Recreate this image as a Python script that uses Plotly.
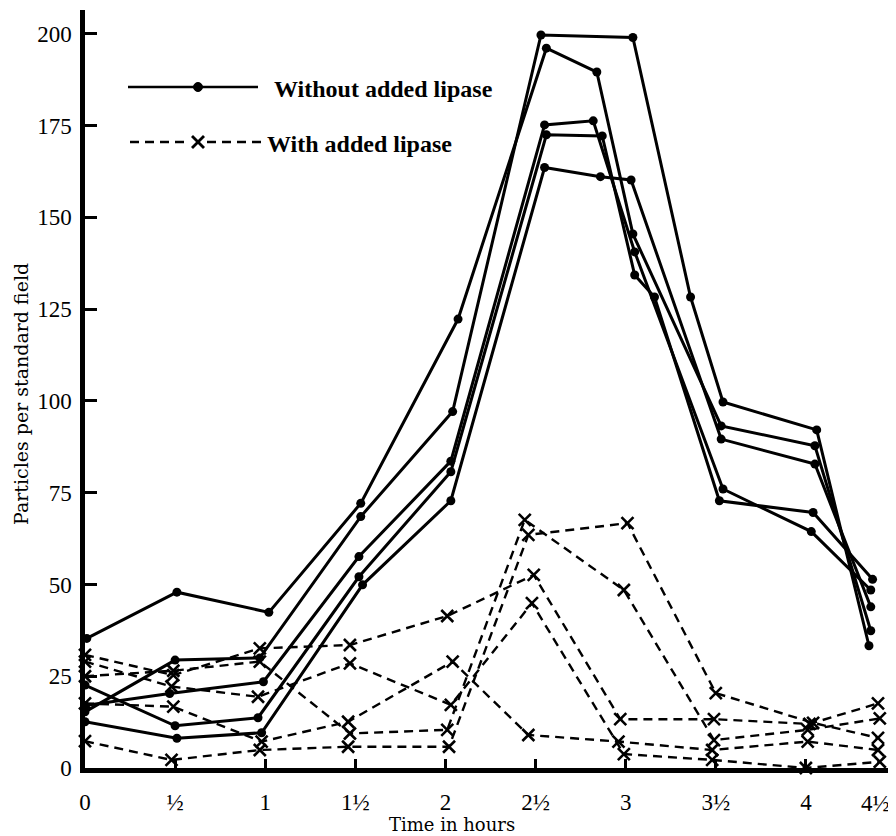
import plotly.graph_objects as go

# ---------------- data ----------------
tick_vals = [0, 0.5, 1, 1.5, 2, 2.5, 3, 3.5, 4, 4.5]
tick_text = ["0", "½", "1", "1½", "2", "2½", "3", "3½", "4", "4½"]
y_ticks = [0, 25, 50, 75, 100, 125, 150, 175, 200]

# Without added lipase (solid, dots)
s1_x = [0.01, 0.51, 1.02, 1.53, 2.07, 2.56, 2.84, 3.04, 3.53, 4.05, 4.36]
s1_y = [35.3, 47.9, 42.4, 72.1, 122.3, 196.1, 189.6, 145.5, 93.2, 87.8, 37.4]
s2_x = [0.0, 0.50, 0.97, 1.53, 2.04, 2.53, 3.04, 3.36, 3.54, 4.06, 4.35]
s2_y = [15.3, 29.4, 30.0, 68.5, 97.1, 199.7, 199.0, 128.3, 99.7, 92.1, 33.3]
s3_x = [0.0, 0.47, 0.99, 1.52, 2.03, 2.55, 2.82, 3.05, 3.54, 4.03, 4.36]
s3_y = [17.0, 20.3, 23.5, 57.6, 83.6, 175.2, 176.3, 140.6, 76.0, 64.4, 48.5]
s4_x = [0.0, 0.50, 0.96, 1.52, 2.03, 2.56, 2.87, 3.05, 3.16, 3.52, 4.04, 4.37]
s4_y = [22.6, 11.5, 13.7, 52.1, 80.7, 172.5, 172.2, 134.3, 128.3, 72.8, 69.6, 51.4]
s5_x = [0.0, 0.51, 0.98, 1.54, 2.03, 2.55, 2.86, 3.03, 3.53, 4.05, 4.36]
s5_y = [12.6, 8.1, 9.6, 49.9, 72.8, 163.6, 161.1, 160.2, 89.6, 82.8, 43.9]

# With added lipase (dashed, crosses)
d1_x = [0.0, 0.49, 0.97, 1.47, 2.01, 2.49, 2.97, 3.49, 4.02, 4.40]
d1_y = [30.8, 25.3, 32.6, 33.5, 41.4, 52.6, 13.3, 13.3, 12.0, 17.6]
d2_x = [0.0, 0.48, 0.96, 1.47, 2.03, 2.48, 2.99, 3.48, 4.00, 4.41]
d2_y = [29.0, 22.2, 19.4, 28.5, 17.2, 44.9, 3.8, 2.2, 0.0, 1.7]
d3_x = [0.0, 0.49, 0.97, 1.47, 2.01, 2.44, 2.99, 3.49, 4.01, 4.41]
d3_y = [25.0, 26.5, 29.0, 9.4, 10.4, 67.6, 48.5, 7.6, 10.4, 13.5]
d4_x = [0.0, 0.49, 0.98, 1.46, 2.04, 2.46, 2.96, 3.48, 4.01, 4.40]
d4_y = [17.6, 16.7, 7.2, 12.6, 29.0, 9.0, 7.2, 4.9, 7.2, 4.9]
d5_x = [0.0, 0.48, 0.97, 1.46, 2.02, 2.46, 3.01, 3.50, 4.04, 4.40]
d5_y = [7.3, 2.2, 4.9, 5.8, 5.8, 63.5, 66.7, 20.4, 12.3, 8.2]

solid = [(s1_x, s1_y), (s2_x, s2_y), (s3_x, s3_y), (s4_x, s4_y), (s5_x, s5_y)]
dashed = [(d1_x, d1_y), (d2_x, d2_y), (d3_x, d3_y), (d4_x, d4_y), (d5_x, d5_y)]

# ---------------- layout geometry ----------------
OFF = 8                      # default page margin of the html body
W, H = 896 - OFF, 836 - OFF
L, R, T, B = 85 - OFF, 0, 10 - OFF, 68
PW, PH = W - L - R, H - T - B
SERIF = "Liberation Serif"
WIDE = "DejaVu Serif"

# the last label sits on the right edge; it is written as an annotation
# nudged just inside the page instead of as a tick label
shown_ticks = tick_text[:-1] + [""]


def px(x):
    """page pixel x -> paper coordinate"""
    return (x - OFF - L) / PW


def py(y):
    """page pixel y -> paper coordinate"""
    return (H - B - (y - OFF)) / PH


fig = go.Figure()

for xs, ys in dashed:
    fig.add_trace(go.Scatter(
        x=xs, y=ys, mode="lines+markers",
        line=dict(color="black", width=2.4, dash="9px,6px"),
        marker=dict(symbol="x-thin", size=12, line=dict(color="black", width=2.6)),
        cliponaxis=False, showlegend=False))

for xs, ys in solid:
    fig.add_trace(go.Scatter(
        x=xs, y=ys, mode="lines+markers",
        line=dict(color="black", width=3),
        marker=dict(symbol="circle", size=9, color="black"),
        cliponaxis=False, showlegend=False))

shapes = []
# legend: solid line with dot
shapes.append(dict(type="line", xref="paper", yref="paper",
                   x0=px(128), x1=px(258), y0=py(87), y1=py(87),
                   line=dict(color="black", width=2.6)))
shapes.append(dict(type="circle", xref="paper", yref="paper",
                   x0=px(193.5), x1=px(202.5), y0=py(82.5), y1=py(91.5),
                   fillcolor="black", line=dict(color="black", width=1)))
# legend: dashed line with cross
shapes.append(dict(type="line", xref="paper", yref="paper",
                   x0=px(130), x1=px(190), y0=py(142), y1=py(142),
                   line=dict(color="black", width=2.4, dash="9px,6px")))
shapes.append(dict(type="line", xref="paper", yref="paper",
                   x0=px(207), x1=px(264), y0=py(142), y1=py(142),
                   line=dict(color="black", width=2.4, dash="9px,6px")))
shapes.append(dict(type="line", xref="paper", yref="paper",
                   x0=px(192), x1=px(204), y0=py(136), y1=py(148),
                   line=dict(color="black", width=2.8)))
shapes.append(dict(type="line", xref="paper", yref="paper",
                   x0=px(192), x1=px(204), y0=py(148), y1=py(136),
                   line=dict(color="black", width=2.8)))

annotations = [
    dict(text="<b>Without added lipase</b>", xref="paper", yref="paper",
         x=px(272), y=py(89), xanchor="left", yanchor="middle", showarrow=False,
         font=dict(family=SERIF, size=24, color="black")),
    dict(text="<b>With added lipase</b>", xref="paper", yref="paper",
         x=px(265), y=py(144), xanchor="left", yanchor="middle", showarrow=False,
         font=dict(family=SERIF, size=24, color="black")),
    dict(text="Time in hours", xref="paper", yref="paper",
         x=px(452), y=py(825), xanchor="center", yanchor="middle", showarrow=False,
         font=dict(family=WIDE, size=18, color="black")),
    dict(text="Particles per standard field", xref="paper", yref="paper",
         x=px(21), y=py(394), xanchor="center", yanchor="middle", showarrow=False,
         textangle=-90, font=dict(family=WIDE, size=19, color="black")),
    dict(text=tick_text[-1], xref="paper", yref="paper",
         x=px(892), y=py(803), xanchor="right", yanchor="middle", showarrow=False,
         font=dict(family=SERIF, size=23, color="black")),
]

fig.update_layout(
    width=W, height=H,
    margin=dict(l=L, r=R, t=T, b=B, pad=0, autoexpand=False),
    paper_bgcolor="white", plot_bgcolor="white",
    shapes=shapes, annotations=annotations,
    xaxis=dict(range=[0, 4.5], tickvals=tick_vals, ticktext=shown_ticks,
               ticks="inside", ticklen=9, tickwidth=2.5, tickcolor="black",
               showline=True, linewidth=4.5, linecolor="black",
               showgrid=False, zeroline=False, ticklabelstandoff=10,
               automargin=False,
               tickfont=dict(family=SERIF, size=23, color="black")),
    yaxis=dict(range=[0, 206.5], tickvals=y_ticks,
               ticks="inside", ticklen=12, tickwidth=2.5, tickcolor="black",
               showline=True, linewidth=4.5, linecolor="black",
               showgrid=False, zeroline=False, ticklabelstandoff=4,
               automargin=False,
               tickfont=dict(family=SERIF, size=23, color="black")),
)

fig.write_html("out.html")
